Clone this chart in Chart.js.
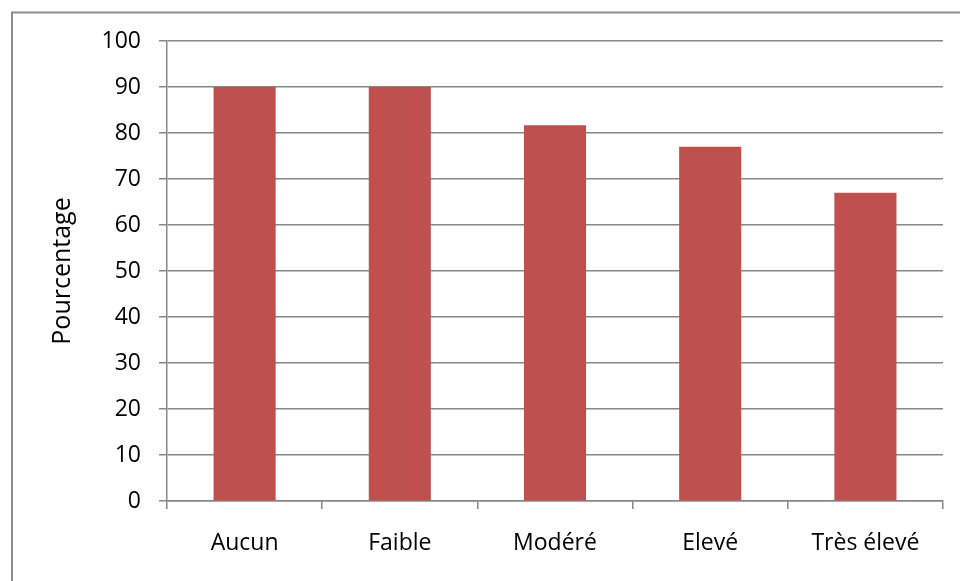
<!DOCTYPE html>
<html>
<head>
<meta charset="utf-8">
<script src="https://cdn.jsdelivr.net/npm/chart.js@4/dist/chart.umd.min.js"></script>
<style>
  html, body { margin: 0; padding: 0; background: #fff; }
  #wrap { width: 960px; height: 581px; position: relative; }
</style>
</head>
<body>
<div id="wrap"><canvas id="c" width="960" height="581"></canvas></div>
<script>
// Share of respondents per level
const categories = ['Aucun', 'Faible', 'Modéré', 'Elevé', 'Très élevé'];
const percentages = [90, 90, 81.7, 77, 67];
const yTicks = [0, 10, 20, 30, 40, 50, 60, 70, 80, 90, 100];

const gridColor = '#878787';
const fontFamily = '"Open Sans", "DejaVu Sans", sans-serif';

// Grey frame around the whole figure
const framePlugin = {
  id: 'frame',
  beforeDraw(chart) {
    const ctx = chart.ctx;
    ctx.save();
    ctx.fillStyle = '#ffffff';
    ctx.fillRect(0, 0, chart.width, chart.height);
    ctx.strokeStyle = '#8c8c8c';
    ctx.lineWidth = 2;
    ctx.strokeRect(12, 12.5, chart.width + 20, chart.height + 20);
    ctx.restore();
  }
};

new Chart(document.getElementById('c'), {
  type: 'bar',
  data: {
    labels: categories,
    datasets: [{
      data: percentages,
      backgroundColor: '#C0504D',
      borderWidth: 0,
      categoryPercentage: 1,
      barPercentage: 0.4
    }]
  },
  options: {
    responsive: false,
    animation: false,
    layout: { padding: { top: 41, right: 17, bottom: 0, left: 0 } },
    plugins: {
      legend: { display: false },
      tooltip: { enabled: false }
    },
    scales: {
      x: {
        offset: true,
        grid: {
          offset: true,
          drawOnChartArea: false,
          drawTicks: true,
          tickLength: 8,
          color: gridColor,
          lineWidth: 1.5
        },
        border: { display: true, color: gridColor, width: 1.5 },
        ticks: {
          color: '#000',
          padding: 21,
          font: { family: fontFamily, size: 23 }
        },
        afterFit(scale) { scale.height = 80; }
      },
      y: {
        min: 0,
        max: 100,
        afterBuildTicks(scale) { scale.ticks = yTicks.map(v => ({ value: v })); },
        grid: {
          color: gridColor,
          lineWidth: 1.5,
          tickLength: 8
        },
        border: { display: true, color: gridColor, width: 1.5 },
        ticks: {
          color: '#000',
          padding: 18,
          font: { family: fontFamily, size: 23 }
        },
        title: {
          display: true,
          text: 'Pourcentage',
          color: '#000',
          font: { family: fontFamily, size: 25 },
          padding: { top: 48, bottom: 0 }
        },
        afterFit(scale) { scale.width = 167; }
      }
    }
  },
  plugins: [framePlugin]
});
</script>
</body>
</html>
